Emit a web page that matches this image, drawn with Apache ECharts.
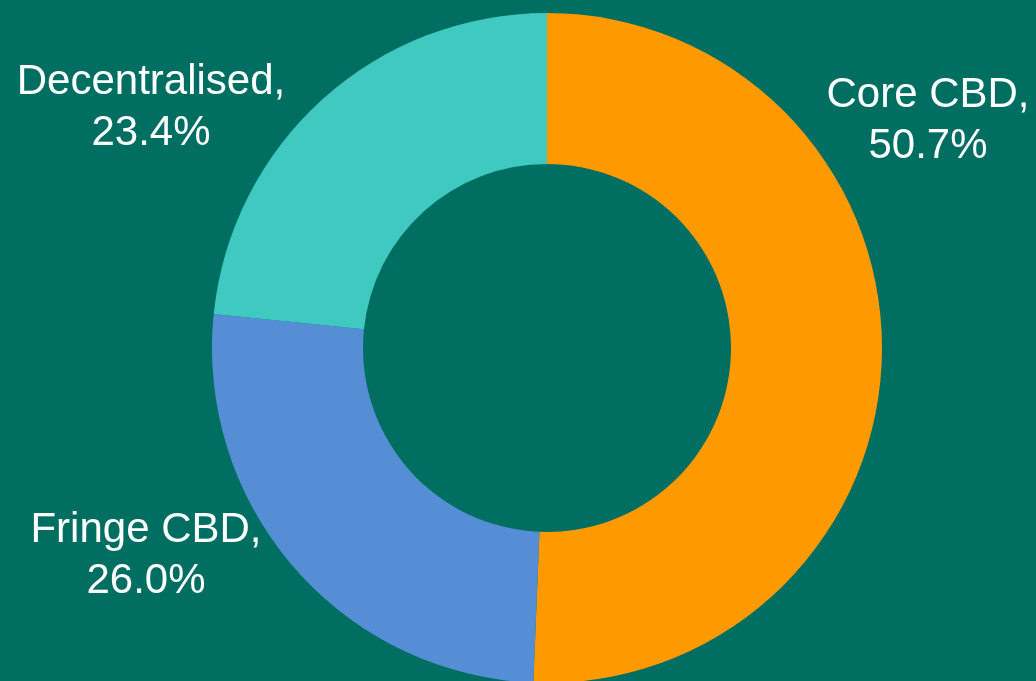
<!DOCTYPE html>
<html>
<head>
    <meta charset="utf-8">
    <title>Office stock by precinct</title>
    <script src="https://cdn.jsdelivr.net/npm/echarts@6/dist/echarts.min.js"></script>
    <style>
        html, body { margin: 0; padding: 0; background: #006F62; }
    </style>
</head>
<body>
<div id="main" style="width: 1036px;height:681px;"></div>
<script type="text/javascript">
    // data
    var categories = ['Core CBD', 'Fringe CBD', 'Decentralised'];
    var shares = [50.7, 26.0, 23.4];
    var colours = ['#FF9900', '#558ED5', '#40C9C0'];

    // where each label block sits (centre of the two lines)
    var labelSpots = [[928, 121], [146, 556], [151, 108]];

    var pieData = categories.map(function (name, i) {
        return { name: name, value: shares[i], itemStyle: { color: colours[i] } };
    });

    var myChart = echarts.init(document.getElementById('main'));
    myChart.setOption({
        backgroundColor: '#006F62',
        animation: false,
        series: [{
            type: 'pie',
            center: [547, 348],
            radius: [184, 335],
            startAngle: 90,
            clockwise: true,
            data: pieData,
            label: {
                show: true,
                position: 'outside',
                color: '#FFFFFF',
                fontFamily: 'Liberation Sans, Arial, sans-serif',
                fontSize: 42,
                lineHeight: 51,
                align: 'center',
                overflow: 'none',
                width: 400,
                formatter: function (p) {
                    return p.name + ',\n' + p.value.toFixed(1) + '%';
                }
            },
            labelLine: { show: false },
            labelLayout: function (params) {
                var s = labelSpots[params.dataIndex];
                return { x: s[0], y: s[1], align: 'center', verticalAlign: 'middle' };
            }
        }]
    });
</script>
</body>
</html>
